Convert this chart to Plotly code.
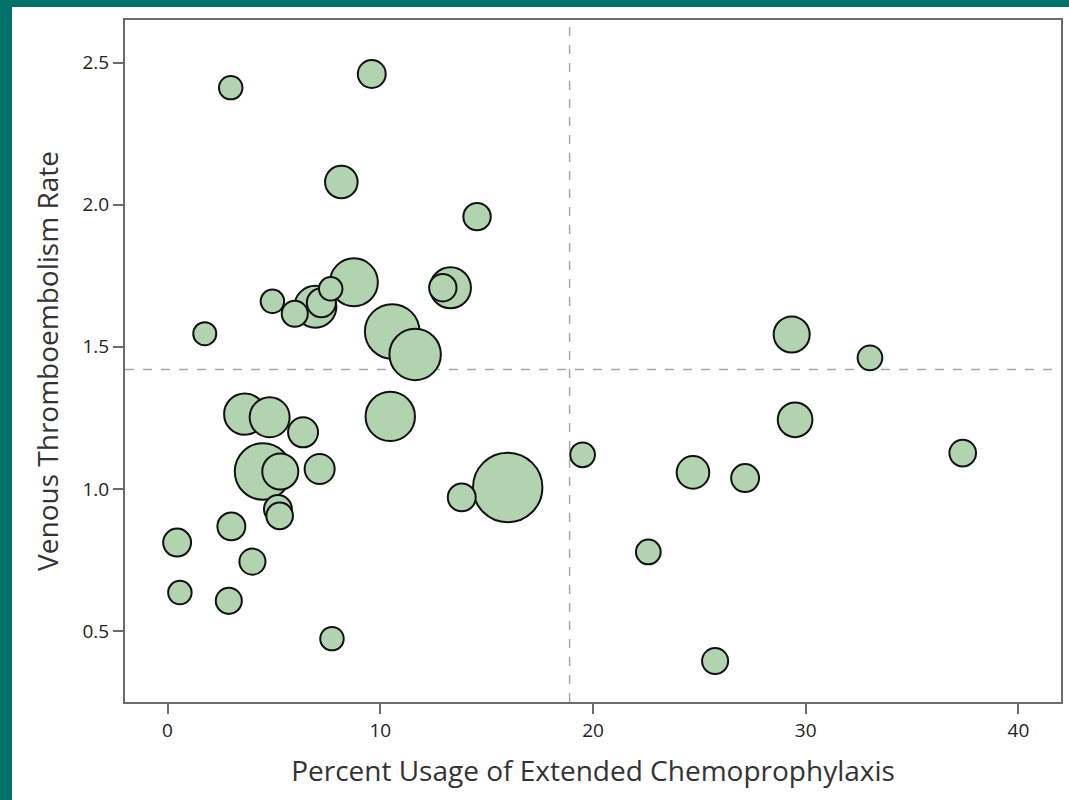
import numpy as np
import plotly.graph_objects as go

# Percent usage of extended chemoprophylaxis (x), VTE rate (y), relative volume (bubble area)
pct_usage = [2.97, 9.60, 8.17, 14.55, 1.75, 4.93, 5.98, 6.95, 7.23, 7.67,
             8.76, 10.56, 11.64, 12.94, 13.30, 3.63, 4.80, 6.37, 4.49, 5.30,
             7.15, 5.19, 5.27, 10.47, 13.83, 15.99, 19.51, 22.60, 24.70, 27.15,
             25.74, 29.34, 29.50, 33.02, 37.38, 0.45, 3.00, 3.99, 0.58, 2.88,
             7.73]
vte_rate = [2.412, 2.46, 2.08, 1.958, 1.546, 1.66, 1.616, 1.641, 1.655, 1.704,
            1.727, 1.554, 1.473, 1.708, 1.708, 1.263, 1.252, 1.199, 1.061, 1.061,
            1.07, 0.929, 0.905, 1.255, 0.97, 1.005, 1.12, 0.778, 1.058, 1.038,
            0.394, 1.543, 1.243, 1.461, 1.126, 0.811, 0.868, 0.744, 0.635, 0.606,
            0.473]
volume = [55, 78, 106, 75, 53, 55, 68, 176, 84, 55,
          230, 298, 264, 75, 168, 171, 160, 90, 320, 130,
          90, 78, 71, 244, 78, 482, 61, 61, 106, 78,
          68, 130, 120, 61, 71, 78, 78, 68, 55, 68,
          55]

mean_usage = 18.9
mean_rate = 1.42

x_ticks = [0, 10, 20, 30, 40]
y_ticks = [0.5, 1.0, 1.5, 2.0, 2.5]

# draw larger bubbles first so smaller ones sit on top
order = np.argsort(volume)[::-1]
xs = np.array(pct_usage)[order]
ys = np.array(vte_rate)[order]
vs = np.array(volume)[order]

FONT = "Open Sans"
AXIS_GRAY = "#6b6b6b"

fig = go.Figure()
fig.add_trace(go.Scatter(
    x=xs, y=ys, mode="markers",
    marker=dict(size=vs, sizemode="area", sizeref=0.2,
                color="rgb(178,211,176)",
                line=dict(color="#111111", width=2),
                opacity=1),
    hoverinfo="x+y",
    showlegend=False,
))

# reference lines
fig.add_shape(type="line", xref="x", yref="paper", x0=mean_usage, x1=mean_usage, y0=0, y1=1,
              line=dict(color="#a8a8a8", width=1.5, dash="dash"), layer="below")
fig.add_shape(type="line", xref="paper", yref="y", x0=0, x1=1, y0=mean_rate, y1=mean_rate,
              line=dict(color="#a8a8a8", width=1.5, dash="dash"), layer="below")

# teal frame bands (top and left)
L, R, T, B = 125, 8, 20, 98
W, H = 1069, 800
pw, ph = W - L - R, H - T - B
teal = "#00716a"
fig.add_shape(type="rect", xref="paper", yref="paper",
              x0=-L / pw, x1=(12 - L) / pw, y0=-B / ph, y1=1 + T / ph,
              fillcolor=teal, line=dict(width=0), layer="above")
fig.add_shape(type="rect", xref="paper", yref="paper",
              x0=-L / pw, x1=1 + R / pw, y0=1 + (T - 7) / ph, y1=1 + T / ph,
              fillcolor=teal, line=dict(width=0), layer="above")

fig.update_layout(
    width=W, height=H,
    margin=dict(l=L, r=R, t=T, b=B, autoexpand=False),
    paper_bgcolor="white", plot_bgcolor="white",
    font=dict(family=FONT, color="#222222"),
    xaxis=dict(range=[-2, 42], tickvals=x_ticks, ticktext=[str(v) for v in x_ticks],
               showgrid=False, zeroline=False, showline=True, linecolor=AXIS_GRAY,
               linewidth=2, mirror=True, ticks="outside", ticklen=10, tickwidth=2,
               tickcolor=AXIS_GRAY, tickfont=dict(size=19, color="#222222"),
               title=dict(text="Percent Usage of Extended Chemoprophylaxis",
                          font=dict(size=28, color="#333333"), standoff=20)),
    yaxis=dict(range=[0.25, 2.65], tickvals=y_ticks, ticktext=[f"{v:.1f}" for v in y_ticks],
               showgrid=False, zeroline=False, showline=True, linecolor=AXIS_GRAY,
               linewidth=2, mirror=True, ticks="outside", ticklen=10, tickwidth=2,
               tickcolor=AXIS_GRAY, tickfont=dict(size=19, color="#222222"),
               title=dict(text="Venous Thromboembolism Rate",
                          font=dict(size=28, color="#333333"), standoff=16)),
)

fig.write_html("out.html")
